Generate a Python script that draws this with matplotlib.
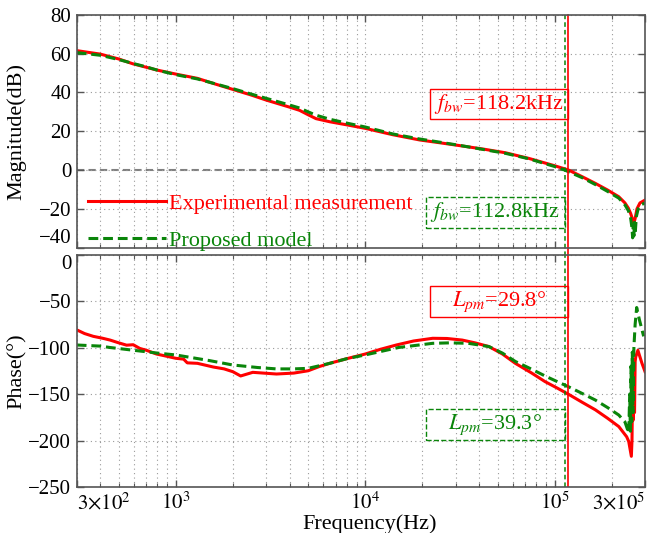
import numpy as np
import matplotlib.pyplot as plt
from matplotlib.patches import Rectangle

plt.rcParams['font.family'] = ['Liberation Serif', 'DejaVu Serif']
plt.rcParams['mathtext.fontset'] = 'stix'

# loop gain, measured
f_mag_exp = [300, 400, 500, 594, 700, 794, 1000, 1300, 1600, 2000, 2500, 3000,
             4000, 4500, 5000, 5500, 6500, 8000, 10000, 14000, 19400, 25000,
             32000, 42000, 55000, 73000, 100000, 118200, 140000, 164000,
             190000, 218000, 235000, 245000, 252000, 258000, 262000, 266000,
             272000, 282000, 300000]
mag_exp = [61.6, 59.8, 57.3, 54.8, 53.0, 51.6, 49.5, 47.3, 44.5, 41.6, 38.7, 36.1,
           32.4, 30.8, 28.5, 26.5, 24.9, 23.3, 21.5, 18.2, 15.5, 14.0,
           12.5, 10.8, 8.9, 6.0, 2.2, 0.0, -3.5, -6.9,
           -10.3, -13.8, -17.0, -19.7, -22.5, -25.5, -27.4, -25.0,
           -20.0, -17.0, -15.5]

# loop gain, model
f_mag_mod = [300, 400, 500, 594, 700, 794, 1000, 1300, 1600, 2000, 2500, 3000,
             4000, 4500, 5000, 5500, 6500, 8000, 10000, 14000, 19400, 25000,
             32000, 42000, 55000, 73000, 100000, 112800, 140000, 164000,
             190000, 218000, 235000, 245000, 252000, 256000, 258000, 260000,
             262000, 264000, 266000, 270000, 276000, 285000, 300000]
mag_mod = [60.6, 59.2, 57.0, 55.0, 53.2, 51.6, 49.2, 47.0, 44.6, 42.0, 39.2, 37.0,
           33.5, 32.0, 30.0, 28.3, 26.2, 24.2, 22.2, 18.6, 16.0, 14.3,
           12.6, 10.6, 8.6, 5.8, 1.8, 0.0, -4.0, -7.5,
           -11.0, -14.5, -18.0, -21.0, -25.0, -30.0, -35.0, -28.0,
           -34.0, -27.0, -33.0, -24.0, -20.0, -18.0, -17.0]

# phase, measured
f_ph_exp = [300, 330, 367, 410, 450, 500, 550, 596, 646, 700, 791, 900, 1000,
            1100, 1150, 1300, 1580, 1800, 2000, 2200, 2550, 3400, 4200, 5000,
            5700, 6500, 8000, 10000, 12000, 14600, 18000, 22700, 27000, 32500,
            38000, 45000, 53000, 62000, 75000, 89000, 104000, 120000, 140000,
            164000, 190000, 218000, 240000, 246000, 254000, 256000, 258000,
            260000, 262000, 264000, 266000, 268000, 275000, 289000, 300000]
ph_exp = [-81, -85, -88, -90, -92, -95, -97.5, -97, -101, -103, -107, -109.5, -111.6,
          -112.5, -116.5, -117, -121, -123, -126, -130.6, -126.7, -128.5, -127.5, -125,
          -120.6, -117, -112, -107, -102, -97.3, -93, -90.1, -90.3, -92,
          -95, -99, -107, -117, -127, -136.7, -144, -151, -159,
          -167, -176, -185, -196, -201, -217, -200, -140,
          -178, -124, -170, -115, -110, -103, -117, -126]

# phase, model
f_ph_mod = [300, 400, 450, 600, 800, 1000, 1500, 2000, 2700, 3400, 4200, 5000,
            6500, 8000, 10000, 15000, 22700, 28000, 35000, 45000, 53000, 62000,
            75000, 89000, 104000, 120000, 140000, 164000, 190000, 218000,
            235000, 246000, 249000, 251000, 253000, 255000, 257000, 259000,
            262000, 266000, 271000, 280000, 295000]
ph_mod = [-97.3, -98.5, -100, -103, -106, -108, -114, -118.8, -121.5, -123, -123, -122.4,
          -117, -112, -108, -100, -95.5, -95, -95.5, -99, -106, -115,
          -123, -130.6, -137, -142.8, -149.5, -156.5, -164.5, -172.6,
          -180, -192, -150, -190, -120, -180, -105, -170,
          -100, -75, -57, -70, -88]

f_bw_exp = 118.2e3
f_bw_mod = 112.8e3
pm_exp = 29.8
pm_mod = 39.3

red = '#ff0000'
green = '#0a850a'
frame = '#555555'
gridc = '#9a9a9a'

fig = plt.figure(figsize=(6.49, 5.33), dpi=100)
ax1 = fig.add_axes([0.1182, 0.5356, 0.8757, 0.4363])
ax2 = fig.add_axes([0.1182, 0.0863, 0.8757, 0.4362])

for ax in (ax1, ax2):
    ax.set_xscale('log')
    ax.set_xlim(300, 3e5)
    ax.set_xticks([300, 1e3, 1e4, 1e5, 3e5])
    ax.set_xticks([k * 10**d for d in (2, 3, 4, 5) for k in range(2, 10)
                   if 300 < k * 10**d < 3e5], minor=True)
    ax.set_xticklabels([])
    ax.set_xticklabels([], minor=True)
    ax.grid(True, which='both', axis='x', ls=(0, (1, 3)), color=gridc, lw=0.8)
    ax.grid(True, which='major', axis='y', ls=(0, (1, 3)), color=gridc, lw=0.8)
    ax.tick_params(which='both', direction='in', top=True, right=True,
                   color=frame, labelsize=15, pad=4)
    ax.tick_params(which='major', length=5, width=1)
    ax.tick_params(which='minor', length=3, width=0.8)
    for s in ax.spines.values():
        s.set_color(frame)
        s.set_linewidth(1.2)

# magnitude
ax1.plot(f_mag_exp, mag_exp, color=red, lw=2.2, label='Experimental measurement')
ax1.plot(f_mag_mod, mag_mod, color=green, lw=2.2, dashes=(3.2, 1.6),
         label='Proposed model')
ax1.axhline(0, color='#808080', lw=1.5, dashes=(3.5, 2), zorder=1)
ax1.set_ylim(-40, 80)
ax1.set_yticks(np.arange(-40, 81, 20))
ax1.set_ylabel('Magnitude(dB)', fontsize=16)
ax1.yaxis.set_label_coords(-0.088, 0.5)
ylabs = ax1.get_yticklabels()
ylabs[0].set_va('bottom')

# phase
ax2.plot(f_ph_exp, ph_exp, color=red, lw=2.2)
ax2.plot(f_ph_mod, ph_mod, color=green, lw=2.2, dashes=(3.2, 1.6))
ax2.set_ylim(-250, 0)
ax2.set_yticks(np.arange(-250, 1, 50))
ax2.set_ylabel('Phase(°)', fontsize=16)
ax2.yaxis.set_label_coords(-0.088, 0.5)
ylabs = ax2.get_yticklabels()
ylabs[-1].set_va('top')
ax2.set_xticklabels([r'$3{\times}10^2$', r'$10^3$', r'$10^4$', r'$10^5$',
                     r'$3{\times}10^5$'])
xl = ax2.get_xticklabels()
xl[0].set_ha('left')
xl[-1].set_ha('right')
ax2.set_xlabel('Frequency(Hz)', fontsize=16)
ax2.xaxis.set_label_coords(0.516, -0.118)

# crossover lines through both panels
ax1.axvline(f_bw_exp, ymin=-0.035, ymax=1, color=red, lw=1.2, clip_on=False)
ax1.axvline(f_bw_mod, ymin=-0.035, ymax=1, color=green, lw=1.1,
            dashes=(3, 2), clip_on=False)
ax2.axvline(f_bw_exp, color=red, lw=1.2)
ax2.axvline(f_bw_mod, color=green, lw=1.1, dashes=(3, 2))


def tag(ax, f_right, y0, y1, text, color, dashed):
    f_left = f_right / 10**0.733
    ax.add_patch(Rectangle((f_left, y0), f_right - f_left, y1 - y0, fill=False,
                           ec=color, lw=1.0, ls='--' if dashed else '-',
                           zorder=4))
    ax.text(np.sqrt(f_left * f_right), (y0 + y1) / 2, text, color=color,
            fontsize=16, ha='center', va='center', zorder=5)


tag(ax1, f_bw_exp, 26.3, 41.8, r'$f_{bw}$=%.1fkHz' % (f_bw_exp / 1e3), red, False)
tag(ax1, f_bw_mod, -29.9, -13.9, r'$f_{bw}$=%.1fkHz' % (f_bw_mod / 1e3), green, True)
tag(ax2, f_bw_exp, -67.2, -33.9, r'$L_{pm}$=%.1f°' % pm_exp, red, False)
tag(ax2, f_bw_mod, -199.5, -166.1, r'$L_{pm}$=%.1f°' % pm_mod, green, True)

leg = ax1.legend(loc='lower left', bbox_to_anchor=(0.02, -0.015), frameon=False,
                 fontsize=16, handlelength=3.5, handletextpad=0.15,
                 labelspacing=0.75, borderpad=0, borderaxespad=0,
                 labelcolor='linecolor')

fig.savefig('out.png', dpi=100)
